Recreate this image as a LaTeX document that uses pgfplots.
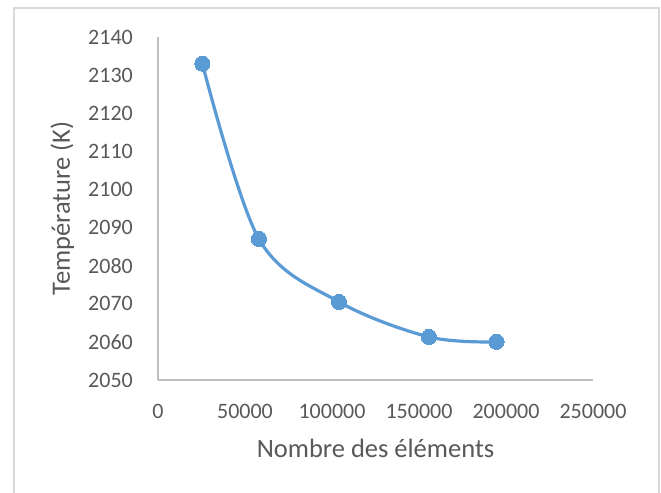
\documentclass[border=0pt]{standalone}
\usepackage{fontspec}
\setmainfont{Carlito}
\usepackage{pgfplots}
\pgfplotsset{compat=1.18}
\definecolor{serie}{HTML}{5B9BD5}
\definecolor{txt}{HTML}{595959}
\definecolor{axline}{HTML}{BFBFBF}
\definecolor{frame}{HTML}{D9D9D9}
\begin{document}
\begin{tikzpicture}
\useasboundingbox (0,0) rectangle (661bp,493bp);
\fill[white] (0,0) rectangle (661bp,493bp);
\draw[frame, line width=1.6bp] (14bp,-20bp) -- (14bp,485bp) -- (659bp,485bp) -- (659bp,-20bp);
\begin{axis}[
  at={(158bp,113bp)}, anchor=south west,
  scale only axis, width=435bp, height=343bp,
  xmin=0, xmax=250000, ymin=2050, ymax=2140,
  axis lines*=left,
  axis line style={axline, line width=1.3bp, -},
  xtick={0,50000,100000,150000,200000,250000},
  ytick={2050,2060,...,2140},
  major tick length=0pt,
  scaled x ticks=false,
  /pgf/number format/assume math mode=true,
  /pgf/number format/1000 sep={},
  /pgf/number format/fixed,
  ticklabel style={font=\fontsize{22bp}{26bp}\selectfont, text=txt},
  yticklabel style={inner sep=0pt, anchor=east, xshift=-25bp},
  xticklabel style={inner sep=0pt, anchor=north, yshift=-24bp},
  xlabel={Nombre des éléments},
  ylabel={Température (K)},
  label style={font=\fontsize{26.5bp}{30bp}\selectfont, text=txt, inner sep=0pt},
  xlabel style={at={(axis description cs:0.5,-0.2274)}, anchor=base},
  ylabel style={at={(axis description cs:-0.2023,0.5)}, anchor=base, rotate=0},
  clip=false,
]
\addplot[serie, line width=3.2bp, smooth, tension=0.55, mark=*, mark size=7.6bp,
  mark options={fill=serie, draw=serie, line width=0pt}]
  coordinates {(25500,2133) (58000,2087) (104000,2070.5) (155700,2061.3) (194500,2060)};
\end{axis}
\end{tikzpicture}
\end{document}
